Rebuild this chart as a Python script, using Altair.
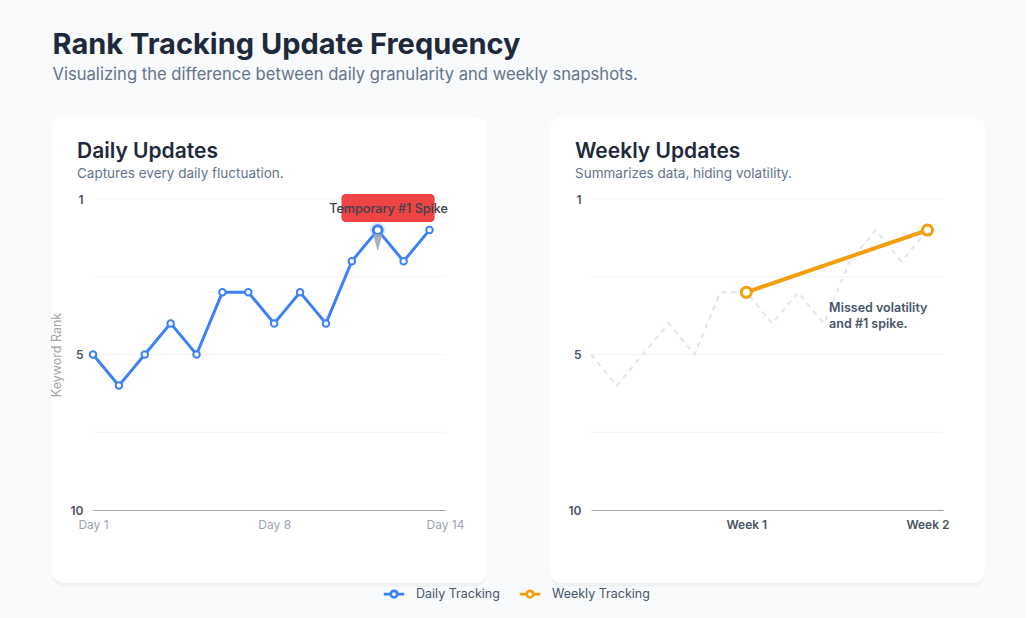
import altair as alt
import pandas as pd

# ---------------- data ----------------
days = list(range(1, 15))
daily_rank = [5, 6, 5, 4, 5, 3, 3, 4, 3, 4, 2, 1, 2, 1]
weekly_day = [7, 14]
weekly_rank = [3, 1]
series_names = ["Daily Tracking", "Weekly Tracking"]
series_colors = ["#3b82f6", "#f59e0b"]
grid_values = [0, 2.5, 5, 7.5]
y_tick_values = [0, 2.5, 5, 7.5, 10]
daily_tick_values = [1, 8, 14.6]
weekly_tick_values = [7, 14]
spike_day = [12]
spike_rank = [1]
panel_titles = ["Daily Updates", "Weekly Updates"]
panel_subtitles = ["Captures every daily fluctuation.", "Summarizes data, hiding volatility."]
spike_text = "Temporary #1 Spike"
spike_box = {"day": [10.6], "day2": [14.2], "rank": [-0.16], "rank2": [0.74]}
spike_text_pos = {"day": [12.42], "rank": [0.32]}
arrow_pos = {"day": [12], "rank": [1.4]}
missed_text = ["Missed volatility", "and #1 spike."]
missed_pos = {"day": [10.2], "rank": [3.3]}

FONT = "Inter"
W, H = 352, 311

daily_df = pd.DataFrame({"day": days, "rank": daily_rank, "series": series_names[0]})
weekly_df = pd.DataFrame({"day": weekly_day, "rank": weekly_rank, "series": series_names[1]})
grid_df = pd.DataFrame({"rank": grid_values})
one = pd.DataFrame({"k": [0]})

color_scale = alt.Scale(domain=series_names, range=series_colors)
xscale = alt.Scale(domain=[1, 14.6], nice=False, zero=False)
yscale = alt.Scale(domain=[0, 10], reverse=True, nice=False, zero=False)

LEG_PATH = ("M-1,0L-0.32,0M0.32,0L1,0M-0.32,0A0.32,0.32,0,1,1,0.32,0"
            "A0.32,0.32,0,1,1,-0.32,0Z")

y_label_expr = ("datum.value == 0 ? '1' : datum.value == 5 ? '5' : "
                "datum.value == 10 ? '10' : ''")


def y_axis(title):
    kw = dict(values=y_tick_values, labelExpr=y_label_expr, grid=False, domain=False,
              ticks=False, labelFont=FONT, labelFontSize=12, labelFontWeight=600,
              labelColor="#4b5563", labelPadding=10, zindex=1)
    if title:
        kw.update(title=title, titleFont=FONT, titleFontSize=12.5, titleFontWeight=400,
                  titleColor="#a3a3a3", titlePadding=7)
    else:
        kw.update(title=None)
    return alt.Axis(**kw)


daily_x_axis = alt.Axis(values=daily_tick_values, title=None, grid=False, ticks=False,
                        domain=True, domainColor="#9ca3af", domainWidth=1, labelFlush=False,
                        labelExpr="datum.value == 1 ? 'Day 1' : datum.value == 8 ? 'Day 8' : 'Day 14'",
                        labelFont=FONT, labelFontSize=12, labelColor="#9ca3af",
                        labelPadding=9, zindex=1)
weekly_x_axis = alt.Axis(values=weekly_tick_values, title=None, grid=False, ticks=False,
                         domain=True, domainColor="#9ca3af", domainWidth=1, labelFlush=False,
                         labelExpr="datum.value == 7 ? 'Week 1' : 'Week 2'",
                         labelFont=FONT, labelFontSize=12, labelFontWeight=600,
                         labelColor="#4b5563", labelPadding=9, zindex=1)

legend = alt.Legend(orient="none", legendX=289, legendY=383, direction="horizontal",
                    title=None, symbolType=LEG_PATH, symbolSize=420, symbolStrokeWidth=2.8,
                    symbolFillColor="white", labelFont=FONT, labelFontSize=12.5,
                    labelColor="#475569", columnPadding=14, labelOffset=10)


def card_layers(idx):
    shadow = alt.Chart(one).mark_rect(fill="#0f172a", opacity=0.035, cornerRadius=13).encode(
        x=alt.value(-41), x2=alt.value(394), y=alt.value(-80), y2=alt.value(388))
    card = alt.Chart(one).mark_rect(fill="white", cornerRadius=12).encode(
        x=alt.value(-41), x2=alt.value(394), y=alt.value(-82), y2=alt.value(384))
    title = alt.Chart(one).mark_text(align="left", baseline="alphabetic", font=FONT,
                                      fontSize=21, fontWeight=600, color="#1e293b").encode(
        x=alt.value(-16), y=alt.value(-41), text=alt.value(panel_titles[idx]))
    sub = alt.Chart(one).mark_text(align="left", baseline="alphabetic", font=FONT,
                                    fontSize=13.5, color="#64748b").encode(
        x=alt.value(-16), y=alt.value(-21), text=alt.value(panel_subtitles[idx]))
    return [shadow, card, title, sub]


def grid_layer(axis):
    return alt.Chart(grid_df).mark_rule(color="#f1f5f9", strokeWidth=1).encode(
        y=alt.Y("rank:Q", scale=yscale, axis=axis))


# ---------------- daily panel ----------------
ya_daily = y_axis("Keyword Rank")
box = alt.Chart(pd.DataFrame(spike_box)).mark_rect(fill="#ef4444", cornerRadius=4).encode(
    x=alt.X("day:Q", scale=xscale, axis=daily_x_axis), x2="day2:Q",
    y=alt.Y("rank:Q", scale=yscale, axis=ya_daily), y2="rank2:Q")
box_text = alt.Chart(pd.DataFrame(spike_text_pos)).mark_text(
    font=FONT, fontSize=12.6, fontWeight=500, color="#374151", baseline="middle").encode(
    x=alt.X("day:Q", scale=xscale, axis=daily_x_axis),
    y=alt.Y("rank:Q", scale=yscale, axis=ya_daily), text=alt.value(spike_text))
spike_df = pd.DataFrame({"day": spike_day, "rank": spike_rank})
halo = alt.Chart(spike_df).mark_point(filled=True, shape="circle", size=260,
                                       color=series_colors[0], opacity=0.18).encode(
    x=alt.X("day:Q", scale=xscale, axis=daily_x_axis),
    y=alt.Y("rank:Q", scale=yscale, axis=ya_daily))
daily_line = alt.Chart(daily_df).mark_line(strokeWidth=3).encode(
    x=alt.X("day:Q", scale=xscale, axis=daily_x_axis),
    y=alt.Y("rank:Q", scale=yscale, axis=ya_daily),
    color=alt.Color("series:N", scale=color_scale, legend=legend))
daily_pts = alt.Chart(daily_df).mark_point(filled=True, shape="circle", fill="white",
                                            stroke=series_colors[0], strokeWidth=2,
                                            size=42, opacity=1).encode(
    x=alt.X("day:Q", scale=xscale, axis=daily_x_axis),
    y=alt.Y("rank:Q", scale=yscale, axis=ya_daily))
spike_pt = alt.Chart(spike_df).mark_point(filled=True, shape="circle", fill="white",
                                           stroke=series_colors[0], strokeWidth=3,
                                           size=80, opacity=1).encode(
    x=alt.X("day:Q", scale=xscale, axis=daily_x_axis),
    y=alt.Y("rank:Q", scale=yscale, axis=ya_daily))
arrow = alt.Chart(pd.DataFrame(arrow_pos)).mark_point(
    filled=True, shape="M-0.55,-1L0.55,-1L0,1Z", size=300, color="#9ca3af", opacity=0.85).encode(
    x=alt.X("day:Q", scale=xscale, axis=daily_x_axis),
    y=alt.Y("rank:Q", scale=yscale, axis=ya_daily))

daily = alt.layer(*card_layers(0), grid_layer(ya_daily), box, box_text, halo,
                  daily_line, daily_pts, spike_pt, arrow).properties(width=W, height=H)

# ---------------- weekly panel ----------------
ya_weekly = y_axis(None)
ghost = alt.Chart(daily_df).mark_line(strokeWidth=2, strokeDash=[5, 5], color="#e2e5ea").encode(
    x=alt.X("day:Q", scale=xscale, axis=weekly_x_axis),
    y=alt.Y("rank:Q", scale=yscale, axis=ya_weekly))
weekly_line = alt.Chart(weekly_df).mark_line(strokeWidth=4).encode(
    x=alt.X("day:Q", scale=xscale, axis=weekly_x_axis),
    y=alt.Y("rank:Q", scale=yscale, axis=ya_weekly),
    color=alt.Color("series:N", scale=color_scale, legend=legend))
weekly_pts = alt.Chart(weekly_df).mark_point(filled=True, shape="circle", fill="white",
                                              stroke=series_colors[1], strokeWidth=3,
                                              size=100, opacity=1).encode(
    x=alt.X("day:Q", scale=xscale, axis=weekly_x_axis),
    y=alt.Y("rank:Q", scale=yscale, axis=ya_weekly))
missed = alt.Chart(pd.DataFrame(missed_pos)).mark_text(
    font=FONT, fontSize=12.5, fontWeight=600, color="#475569", align="left",
    baseline="top", lineHeight=16).encode(
    x=alt.X("day:Q", scale=xscale, axis=weekly_x_axis),
    y=alt.Y("rank:Q", scale=yscale, axis=ya_weekly), text=alt.value(missed_text))

weekly = alt.layer(*card_layers(1), grid_layer(ya_weekly), ghost, weekly_line,
                   weekly_pts, missed).properties(width=W, height=H)

chart = alt.hconcat(daily, weekly, spacing=61).resolve_scale(color="shared").properties(
    title=alt.TitleParams(
        text="Rank Tracking Update Frequency",
        subtitle="Visualizing the difference between daily granularity and weekly snapshots.",
        anchor="start", font=FONT, fontSize=29, fontWeight=700, color="#1e293b",
        subtitleFont=FONT, subtitleFontSize=16.6, subtitleColor="#64748b",
        subtitlePadding=7, offset=33, dx=3),
    padding={"left": 49, "top": 30, "right": 40, "bottom": 24},
    background="#f8fafc",
).configure_view(stroke="transparent")

chart.save("out.html", embed_options={"renderer": "svg", "actions": False})
